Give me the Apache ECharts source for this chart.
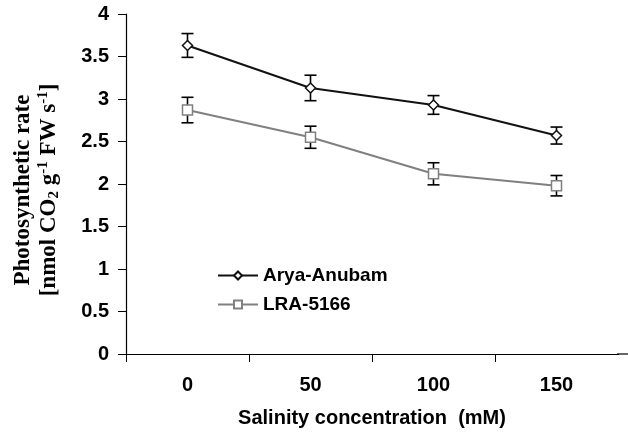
<!DOCTYPE html>
<html>
<head>
<meta charset="utf-8">
<script src="https://cdn.jsdelivr.net/npm/echarts@6/dist/echarts.min.js"></script>
<style>html,body{margin:0;padding:0;background:#fff}#c{width:628px;height:436px}</style>
</head>
<body>
<div id="c"></div>
<script>
var categories = ['0', '50', '100', '150'];
var aryaValues = [3.63, 3.13, 2.93, 2.57];
var aryaErrors = [0.14, 0.15, 0.11, 0.10];
var lraValues = [2.87, 2.55, 2.12, 1.98];
var lraErrors = [0.15, 0.13, 0.13, 0.12];
var yTicks = [0, 0.5, 1, 1.5, 2, 2.5, 3, 3.5, 4];

function errData(vals, errs) {
  return vals.map(function (v, i) { return [i, v - errs[i], v + errs[i]]; });
}
function errSeries(name, vals, errs) {
  return {
    type: 'custom', name: name + ' err', z: 1, silent: true,
    data: errData(vals, errs),
    renderItem: function (params, api) {
      var x = api.value(0);
      var lo = api.coord([x, api.value(1)]);
      var hi = api.coord([x, api.value(2)]);
      var hw = 6;
      var st = { stroke: '#000', lineWidth: 1.6 };
      return { type: 'group', children: [
        { type: 'line', shape: { x1: lo[0], y1: lo[1], x2: hi[0], y2: hi[1] }, style: st },
        { type: 'line', shape: { x1: lo[0] - hw, y1: lo[1], x2: lo[0] + hw, y2: lo[1] }, style: st },
        { type: 'line', shape: { x1: hi[0] - hw, y1: hi[1], x2: hi[0] + hw, y2: hi[1] }, style: st }
      ]};
    }
  };
}

var chart = echarts.init(document.getElementById('c'));
var tickFont = { fontFamily: 'Liberation Sans, Arial', fontWeight: 'bold', fontSize: 20, color: '#000' };
chart.setOption({
  animation: false,
  grid: { left: 126, right: 10, top: 14, bottom: 82, containLabel: false, outerBoundsMode: 'none' },
  graphic: [
    { type: 'rect', right: 4, top: 355, shape: { width: 10, height: 10 }, style: { fill: '#fff' }, z: 100 },
    { type: 'line', shape: { x1: 617, y1: 354, x2: 628, y2: 354 }, style: { stroke: '#000', lineWidth: 1.2 }, z: 100 }
  ],
  legend: {
    orient: 'vertical', left: 212, top: 261, itemWidth: 40, itemHeight: 10, itemGap: 10,
    textStyle: { fontFamily: 'Liberation Sans, Arial', fontWeight: 'bold', fontSize: 19, color: '#000' },
    data: ['Arya-Anubam', 'LRA-5166']
  },
  xAxis: {
    type: 'category', data: categories, boundaryGap: true,
    axisLine: { lineStyle: { color: '#000', width: 1.2 } },
    axisTick: { show: true, alignWithLabel: false, length: 8, lineStyle: { color: '#000' } },
    axisLabel: Object.assign({ margin: 21 }, tickFont),
    name: 'Salinity concentration  (mM)', nameLocation: 'middle', nameGap: 54,
    nameTextStyle: { fontFamily: 'Liberation Sans, Arial', fontWeight: 'bold', fontSize: 20, color: '#000' }
  },
  yAxis: {
    type: 'value', min: 0, max: 4, interval: 0.5,
    splitLine: { show: false },
    axisLine: { show: true, lineStyle: { color: '#000', width: 1.2 } },
    axisTick: { show: true, length: 8, lineStyle: { color: '#000' } },
    axisLabel: Object.assign({ margin: 17, formatter: function (v) { return yTicks.indexOf(v) >= 0 ? String(v) : ''; } }, tickFont),
    name: '{t|Photosynthetic rate}\n{t|[nmol CO}{sub|2}{t| g}{sup|-1}{t| FW s}{sup|-1}{t|]}',
    nameLocation: 'middle', nameRotate: 90, nameGap: 64,
    nameTextStyle: {
      fontFamily: 'Liberation Serif, Times New Roman', fontWeight: 'bold', fontSize: 23, color: '#000', lineHeight: 26,
      padding: [0, 12, 0, 0],
      rich: {
        t: { fontFamily: 'Liberation Serif', fontWeight: 'bold', fontSize: 23, color: '#000', lineHeight: 26 },
        sub: { fontFamily: 'Liberation Serif', fontWeight: 'bold', fontSize: 15, color: '#000', verticalAlign: 'bottom', lineHeight: 26, padding: [9, 0, 0, 0] },
        sup: { fontFamily: 'Liberation Serif', fontWeight: 'bold', fontSize: 15, color: '#000', verticalAlign: 'top', lineHeight: 26, padding: [0, 0, 9, 0] }
      }
    }
  },
  series: [
    errSeries('Arya-Anubam', aryaValues, aryaErrors),
    errSeries('LRA-5166', lraValues, lraErrors),
    {
      name: 'Arya-Anubam', type: 'line', data: aryaValues, z: 3,
      symbol: 'diamond', symbolSize: 10,
      lineStyle: { color: '#111', width: 2 },
      itemStyle: { color: '#fff', borderColor: '#111', borderWidth: 1.5 }
    },
    {
      name: 'LRA-5166', type: 'line', data: lraValues, z: 3,
      symbol: 'rect', symbolSize: 10,
      lineStyle: { color: '#808080', width: 2 },
      itemStyle: { color: '#fff', borderColor: '#808080', borderWidth: 1.5 }
    }
  ]
});
</script>
</body>
</html>
